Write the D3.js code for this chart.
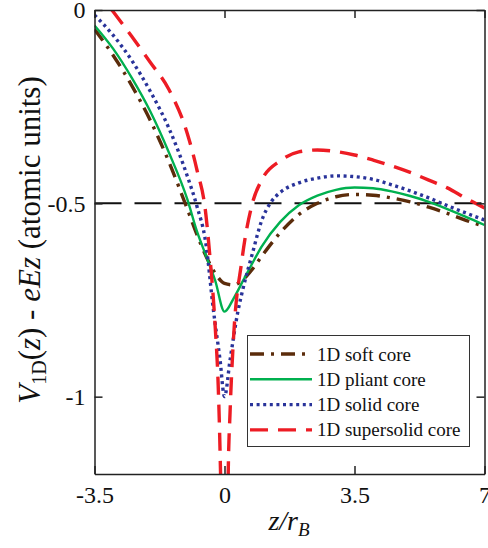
<!DOCTYPE html>
<html>
<head>
<meta charset="utf-8">
<script src="https://cdn.jsdelivr.net/npm/d3@7/dist/d3.min.js"></script>
<style>
  html, body { margin: 0; padding: 0; background: #fff; }
  svg { display: block; }
  svg text { font-family: "Liberation Serif", "Times New Roman", Times, "DejaVu Serif", serif; }
</style>
</head>
<body>
<svg id="chart" width="488" height="548"></svg>
<script>
// Effective 1D potentials along z (atomic units), shifted by the field term.
const zShared = [-3.5, -3, -2.5, -2, -1.5, -1, -0.75, -0.5, -0.25, 0, 0.25, 0.5, 0.75, 1,
                 1.5, 2, 2.5, 3, 3.5, 4, 4.5, 5, 5.5, 6, 6.5, 7];
const softCore = [-0.050, -0.117, -0.195, -0.285, -0.392, -0.515, -0.579, -0.636, -0.681, -0.707,
                  -0.711, -0.697, -0.670, -0.637, -0.576, -0.529, -0.500, -0.483, -0.477, -0.479,
                  -0.486, -0.496, -0.510, -0.526, -0.544, -0.560];
const pliantCore = [-0.040, -0.100, -0.175, -0.262, -0.368, -0.490, -0.570, -0.635, -0.700, -0.780,
                    -0.745, -0.700, -0.655, -0.612, -0.548, -0.505, -0.480, -0.465, -0.459, -0.461,
                    -0.469, -0.481, -0.496, -0.515, -0.535, -0.556];

const zSolid = [-3.5, -3, -2.5, -2, -1.5, -1, -0.75, -0.5, -0.3, -0.12, 0, 0.15, 0.36, 0.5, 0.75,
                1, 1.25, 1.5, 2, 2.5, 3, 3.5, 4, 4.5, 5, 5.5, 6, 6.5, 7];
const solidCore = [-0.013, -0.065, -0.130, -0.210, -0.305, -0.430, -0.505, -0.605, -0.775, -0.905,
                   -1.000, -0.905, -0.780, -0.720, -0.630, -0.545, -0.497, -0.472, -0.447, -0.435,
                   -0.429, -0.431, -0.438, -0.452, -0.468, -0.486, -0.506, -0.525, -0.543];

const zSupersolid = [-3.5, -3, -2.5, -2, -1.5, -1, -0.75, -0.5, -0.4, -0.25, -0.17, -0.12, -0.08,
                     -0.04, 0, 0.04, 0.1, 0.15, 0.23, 0.47, 0.75, 1, 1.5, 2, 2.5, 3, 3.5, 4, 4.5,
                     5, 5.5, 6, 6.5, 7];
const supersolidCore = [0.058, -0.004, -0.068, -0.135, -0.205, -0.320, -0.410, -0.530, -0.630,
                        -0.820, -0.970, -1.140, -1.350, -1.800, -3.000, -1.850, -1.200, -1.040,
                        -0.870, -0.646, -0.500, -0.440, -0.390, -0.367, -0.362, -0.366, -0.375,
                        -0.388, -0.403, -0.420, -0.440, -0.460, -0.487, -0.512];

const referenceLevel = -0.5;
const xTicks = [-3.5, 0, 3.5, 7];
const yTicks = [-1, -0.5, 0];
const legendLabels = ["1D soft core", "1D pliant core", "1D solid core", "1D supersolid core"];

const serif = "'Liberation Serif', 'Times New Roman', Times, 'DejaVu Serif', serif";
const svg = d3.select("#chart");
const plotLeft = 94.5, plotRight = 484.5, plotTop = 10, plotBottom = 474;

const x = d3.scaleLinear().domain([-3.5, 7]).range([plotLeft, plotRight]);
const y = d3.scaleLinear().domain([-1.2, 0]).range([plotBottom, plotTop]);

const series = [
  { z: zShared, v: softCore, color: "#5b2c0b", width: 3.4, dash: "14,7,3,7" },
  { z: zShared, v: pliantCore, color: "#00b04f", width: 2.4, dash: null },
  { z: zSolid, v: solidCore, color: "#29339a", width: 3.4, dash: "3,3.6" },
  { z: zSupersolid, v: supersolidCore, color: "#ed1c24", width: 3.4, dash: "18,10" }
];

svg.append("defs").append("clipPath").attr("id", "plot-clip")
  .append("rect").attr("x", plotLeft).attr("y", plotTop)
  .attr("width", plotRight - plotLeft).attr("height", plotBottom - plotTop);

const plot = svg.append("g").attr("clip-path", "url(#plot-clip)");

// Horizontal reference level
plot.append("line")
  .attr("x1", x(-3.5)).attr("x2", x(7))
  .attr("y1", y(referenceLevel)).attr("y2", y(referenceLevel))
  .attr("stroke", "#111").attr("stroke-width", 2)
  .attr("stroke-dasharray", "27,13");

const line = d3.line().curve(d3.curveMonotoneX);

series.forEach(s => {
  const pts = s.z.map((zz, i) => [x(zz), y(s.v[i])]);
  plot.append("path")
    .attr("d", line(pts))
    .attr("fill", "none")
    .attr("stroke", s.color)
    .attr("stroke-width", s.width)
    .attr("stroke-dasharray", s.dash)
    .attr("stroke-linejoin", "round");
});

// Axes with inward ticks on all four sides
const fmt = d => String(d);
const axisStyle = g => {
  g.attr("font-family", serif);
  g.selectAll("path.domain").attr("stroke", "#222").attr("stroke-width", 1.5);
  g.selectAll(".tick line").attr("stroke", "#222").attr("stroke-width", 1.5);
  g.selectAll("text").attr("font-size", 24).attr("fill", "#111").attr("font-family", serif);
};

svg.append("g").attr("transform", `translate(0,${plotBottom})`)
  .call(d3.axisBottom(x).tickValues(xTicks).tickSize(-8).tickSizeOuter(0).tickPadding(12).tickFormat(fmt))
  .call(axisStyle);
svg.append("g").attr("transform", `translate(0,${plotTop})`)
  .call(d3.axisTop(x).tickValues(xTicks).tickSize(-8).tickSizeOuter(0).tickFormat(""))
  .call(axisStyle);
svg.append("g").attr("transform", `translate(${plotLeft},0)`)
  .call(d3.axisLeft(y).tickValues(yTicks).tickSize(-8).tickSizeOuter(0).tickPadding(9).tickFormat(fmt))
  .call(axisStyle);
svg.append("g").attr("transform", `translate(${plotRight},0)`)
  .call(d3.axisRight(y).tickValues(yTicks).tickSize(-8).tickSizeOuter(0).tickFormat(""))
  .call(axisStyle);

// Axis titles
const xt = svg.append("text")
  .attr("x", 289).attr("y", 530)
  .attr("text-anchor", "middle").attr("font-family", serif)
  .attr("font-size", 28).attr("font-style", "italic").attr("fill", "#111");
xt.append("tspan").text("z/r");
xt.append("tspan").attr("font-size", 19).attr("dy", 6).text("B");

const yt = svg.append("text")
  .attr("transform", "translate(40,240) rotate(-90)")
  .attr("text-anchor", "middle").attr("font-family", serif)
  .attr("font-size", 31).attr("fill", "#111");
yt.append("tspan").attr("font-style", "italic").text("V");
yt.append("tspan").attr("font-size", 20).attr("dy", 6).text("1D");
yt.append("tspan").attr("dy", -6).text("(");
yt.append("tspan").attr("font-style", "italic").text("z");
yt.append("tspan").text(") - ");
yt.append("tspan").attr("font-style", "italic").text("eEz");
yt.append("tspan").text(" (atomic units)");

// Legend
const lg = svg.append("g");
lg.append("rect")
  .attr("x", 247.5).attr("y", 335.5).attr("width", 222).attr("height", 111)
  .attr("fill", "#fff").attr("stroke", "#333").attr("stroke-width", 1);
series.forEach((s, i) => {
  const cy = 354 + i * 25.3;
  lg.append("line")
    .attr("x1", 250).attr("x2", 312).attr("y1", cy).attr("y2", cy)
    .attr("stroke", s.color).attr("stroke-width", s.width)
    .attr("stroke-dasharray", s.dash);
  lg.append("text")
    .attr("x", 317).attr("y", cy + 6.5).attr("font-family", serif)
    .attr("font-size", 19).attr("fill", "#111")
    .text(legendLabels[i]);
});
</script>
</body>
</html>
